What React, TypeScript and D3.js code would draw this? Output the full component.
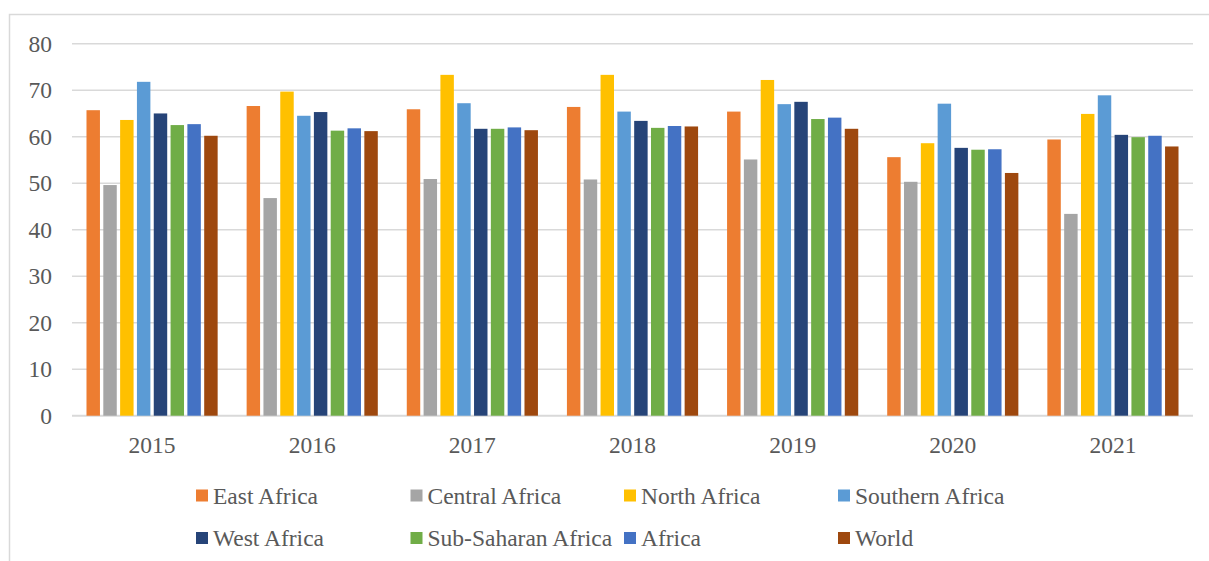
import React from "react";
import * as d3 from "d3";

const years = ["2015", "2016", "2017", "2018", "2019", "2020", "2021"];
const seriesNames = [
  "East Africa",
  "Central Africa",
  "North Africa",
  "Southern Africa",
  "West Africa",
  "Sub-Saharan Africa",
  "Africa",
  "World",
];
const seriesColors = [
  "#ED7D31",
  "#A5A5A5",
  "#FFC000",
  "#5B9BD5",
  "#264478",
  "#70AD47",
  "#4472C4",
  "#9E480E",
];
const eastAfrica = [65.7, 66.6, 65.9, 66.4, 65.4, 55.6, 59.4];
const centralAfrica = [49.6, 46.8, 50.9, 50.8, 55.1, 50.3, 43.4];
const northAfrica = [63.6, 69.7, 73.3, 73.3, 72.2, 58.6, 64.9];
const southernAfrica = [71.8, 64.5, 67.2, 65.4, 67.0, 67.1, 68.9];
const westAfrica = [65.0, 65.3, 61.7, 63.4, 67.5, 57.6, 60.4];
const subSaharanAfrica = [62.5, 61.3, 61.7, 61.9, 63.8, 57.2, 59.9];
const africa = [62.7, 61.8, 62.0, 62.3, 64.1, 57.3, 60.2];
const world = [60.2, 61.2, 61.4, 62.2, 61.7, 52.2, 57.9];
const yTicks = [0, 10, 20, 30, 40, 50, 60, 70, 80];

const seriesValues = [
  eastAfrica,
  centralAfrica,
  northAfrica,
  southernAfrica,
  westAfrica,
  subSaharanAfrica,
  africa,
  world,
];

export default function App() {
  const W = 1209;
  const H = 561;
  const plotLeft = 72;
  const plotRight = 1193;
  const yTop = 43.7;
  const yBottom = 415.7;

  const x0 = d3
    .scaleBand<string>()
    .domain(years)
    .range([plotLeft, plotRight])
    .paddingInner(0.16)
    .paddingOuter(0.08);
  const x1 = d3
    .scaleBand<string>()
    .domain(seriesNames)
    .range([0, x0.bandwidth()])
    .paddingInner(0.2)
    .paddingOuter(0.1);
  const y = d3.scaleLinear().domain([0, 80]).range([yBottom, yTop]);

  const font = "'Liberation Serif', 'Times New Roman', serif";
  const textColor = "#595959";
  const gridColor = "#d9d9d9";

  const legendCols = [196, 410.5, 624, 838];
  const legendRows = [495.5, 538];

  return (
    <svg
      width={W}
      height={H}
      style={{ position: "absolute", left: 0, top: 0, background: "#fff" }}
      fontFamily={font}
    >
      <rect x={0} y={0} width={W} height={H} fill="#fff" />
      <rect
        x={9.5}
        y={14.5}
        width={W + 20}
        height={H + 20}
        fill="none"
        stroke={gridColor}
        strokeWidth={1.5}
      />
      {yTicks.map((t) => (
        <g key={t}>
          <line
            x1={plotLeft}
            x2={plotRight}
            y1={y(t)}
            y2={y(t)}
            stroke={gridColor}
            strokeWidth={t === 0 ? 2 : 1.5}
          />
          <text
            x={52}
            y={y(t)}
            dy="0.35em"
            textAnchor="end"
            fontSize={23.5}
            fill={textColor}
          >
            {t}
          </text>
        </g>
      ))}
      {years.map((yr, i) => (
        <g key={yr} transform={`translate(${x0(yr)},0)`}>
          {seriesNames.map((s, j) => {
            const v = seriesValues[j][i];
            return (
              <rect
                key={s}
                x={x1(s)}
                y={y(v)}
                width={x1.bandwidth()}
                height={y(0) - y(v)}
                fill={seriesColors[j]}
              />
            );
          })}
          <text
            x={x0.bandwidth() / 2}
            y={452.7}
            textAnchor="middle"
            fontSize={23.5}
            fill={textColor}
          >
            {yr}
          </text>
        </g>
      ))}
      {seriesNames.map((s, j) => {
        const cx = legendCols[j % 4];
        const cy = legendRows[Math.floor(j / 4)];
        return (
          <g key={s}>
            <rect x={cx} y={cy - 6} width={12} height={12} fill={seriesColors[j]} />
            <text
              x={cx + 17}
              y={cy + 8}
              fontSize={23.5}
              fill={textColor}
            >
              {s}
            </text>
          </g>
        );
      })}
    </svg>
  );
}
